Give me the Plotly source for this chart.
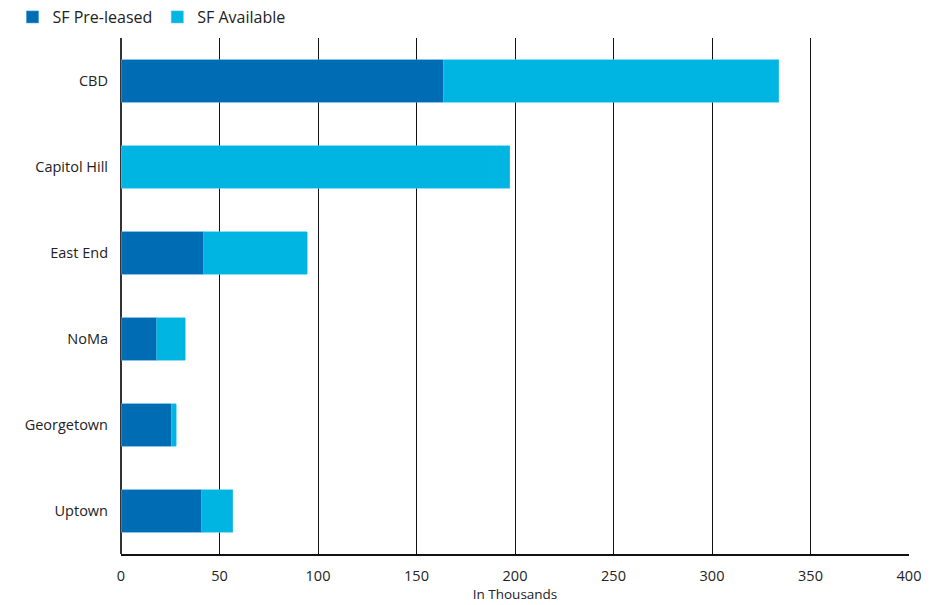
import plotly.graph_objects as go

categories = ["CBD", "Capitol Hill", "East End", "NoMa", "Georgetown", "Uptown"]
pre_leased = [163.7, 0, 42.0, 18.2, 25.5, 41.0]
available = [170.3, 197.3, 52.5, 14.4, 2.6, 15.8]
x_ticks = [0, 50, 100, 150, 200, 250, 300, 350, 400]

FONT = "Open Sans"
fig = go.Figure()
fig.add_trace(go.Bar(y=categories, x=pre_leased, name="SF Pre-leased", orientation="h",
                     marker=dict(color="#006CB4", line=dict(color="#3a9ad6", width=0.6))))
fig.add_trace(go.Bar(y=categories, x=available, name="SF Available", orientation="h",
                     marker=dict(color="#00B5E2", line=dict(color="#3cc8ee", width=0.6))))

fig.update_layout(
    barmode="stack",
    bargap=0.51,
    width=934, height=605,
    margin=dict(l=121, r=25, t=38, b=51, autoexpand=False),
    plot_bgcolor="white", paper_bgcolor="white",
    font=dict(family=FONT, size=14.5, color="#222"),
    legend=dict(orientation="h", traceorder="normal", xref="container", yref="container",
                x=0.0134, y=1 - 17 / 605, xanchor="left", yanchor="middle",
                font=dict(size=16, color="#222"), itemwidth=30, tracegroupgap=0),
    xaxis=dict(range=[0, 400], tickvals=x_ticks, ticktext=[str(v) for v in x_ticks],
               showgrid=True, gridcolor="#111", gridwidth=1,
               zeroline=True, zerolinecolor="#333", zerolinewidth=1.5,
               showline=True, linecolor="#111", linewidth=1.5,
               ticks="", ticklabelstandoff=8, automargin=True,
               tickfont=dict(size=14.5, color="#222"),
               title=dict(text="In Thousands", font=dict(size=13.5, color="#222"), standoff=4)),
    yaxis=dict(categoryorder="array", categoryarray=categories, autorange="reversed",
               showgrid=False, ticks="", ticklabelstandoff=12, automargin=False,
               tickfont=dict(size=14.5, color="#222")),
)

fig.write_html("out.html")
